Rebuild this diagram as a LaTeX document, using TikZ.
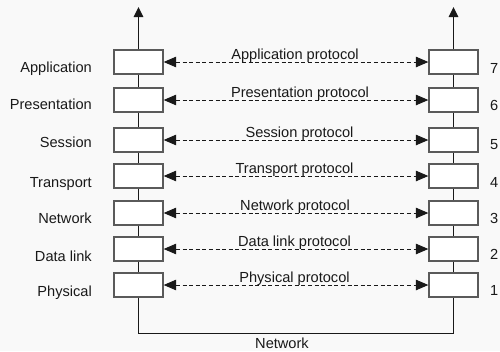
\documentclass[tikz,border=0pt]{standalone}
\usepackage{fontspec}
\setmainfont{Liberation Sans}
\usetikzlibrary{arrows.meta}
\definecolor{bg}{RGB}{249,249,249}
\definecolor{boxline}{RGB}{90,90,90}
\definecolor{ink}{RGB}{25,25,25}
\begin{document}
\begin{tikzpicture}[x=1pt,y=-1pt,
  font=\fontsize{14.6}{17}\selectfont,
  layerbox/.style={draw=boxline,fill=white,line width=1.3pt,rectangle,minimum width=49pt,minimum height=24pt,inner sep=0pt},
  stackline/.style={draw=ink,line width=1.4pt},
  protoarrow/.style={draw=ink,line width=1pt,dash pattern=on 4pt off 2.6pt,{Triangle[length=12.5pt,width=10.5pt]}-{Triangle[length=12.5pt,width=10.5pt]}},
  txt/.style={text=ink,inner sep=0pt}
]
\fill[bg] (0,0) rectangle (500,351);
\useasboundingbox (0,0) rectangle (500,351);
% boxes: row index 7 (top) .. 1 (bottom)
\foreach \n/\c in {7/62,6/100,5/140,4/176,3/213,2/249,1/285}{
  \node[layerbox] (L\n) at (138.5,\c) {};
  \node[layerbox] (R\n) at (453.5,\c) {};
}
% left labels
\node[txt,anchor=base east] (la7) at (92,72.5) {Application};
\node[txt,anchor=base east] (la6) at (92,109.5) {Presentation};
\node[txt,anchor=base east] (la5) at (92,147.5) {Session};
\node[txt,anchor=base east] (la4) at (92,187) {Transport};
\node[txt,anchor=base east] (la3) at (92,223.5) {Network};
\node[txt,anchor=base east] (la2) at (92,261) {Data link};
\node[txt,anchor=base east] (la1) at (92,296.5) {Physical};
% numbers
\foreach \n/\b in {7/73,6/110,5/149,4/187,3/223,2/259,1/295}{
  \node[txt,anchor=base west] (num\n) at (490,\b) {\n};
}
% vertical stacks
\coordinate (topL) at (138.5,7);
\coordinate (topR) at (453.5,7);
\draw[stackline,-{Triangle[length=10pt,width=9.5pt]}] (L7.north) -- (topL);
\draw[stackline,-{Triangle[length=10pt,width=9.5pt]}] (R7.north) -- (topR);
\foreach \a/\b in {7/6,6/5,5/4,4/3,3/2,2/1}{
  \draw[stackline] (L\a.south) -- (L\b.north);
  \draw[stackline] (R\a.south) -- (R\b.north);
}
\coordinate (botL) at (138.5,333.5);
\draw[stackline] (L1.south) -- (botL) -| (R1.south);
\node[txt,anchor=base] (net) at (282,348) {Network};
% protocol arrows
\foreach \n in {7,6,5,4,3,2,1}{
  \draw[protoarrow] (L\n.east) -- (R\n.west);
}
\node[txt,anchor=base] (p7) at (295,59) {Application protocol};
\node[txt,anchor=base] (p6) at (300,97) {Presentation protocol};
\node[txt,anchor=base] (p5) at (299.5,137) {Session protocol};
\node[txt,anchor=base] (p4) at (294.5,173) {Transport protocol};
\node[txt,anchor=base] (p3) at (295,210) {Network protocol};
\node[txt,anchor=base] (p2) at (294.5,246) {Data link protocol};
\node[txt,anchor=base] (p1) at (294.5,282) {Physical protocol};
\end{tikzpicture}
\end{document}
